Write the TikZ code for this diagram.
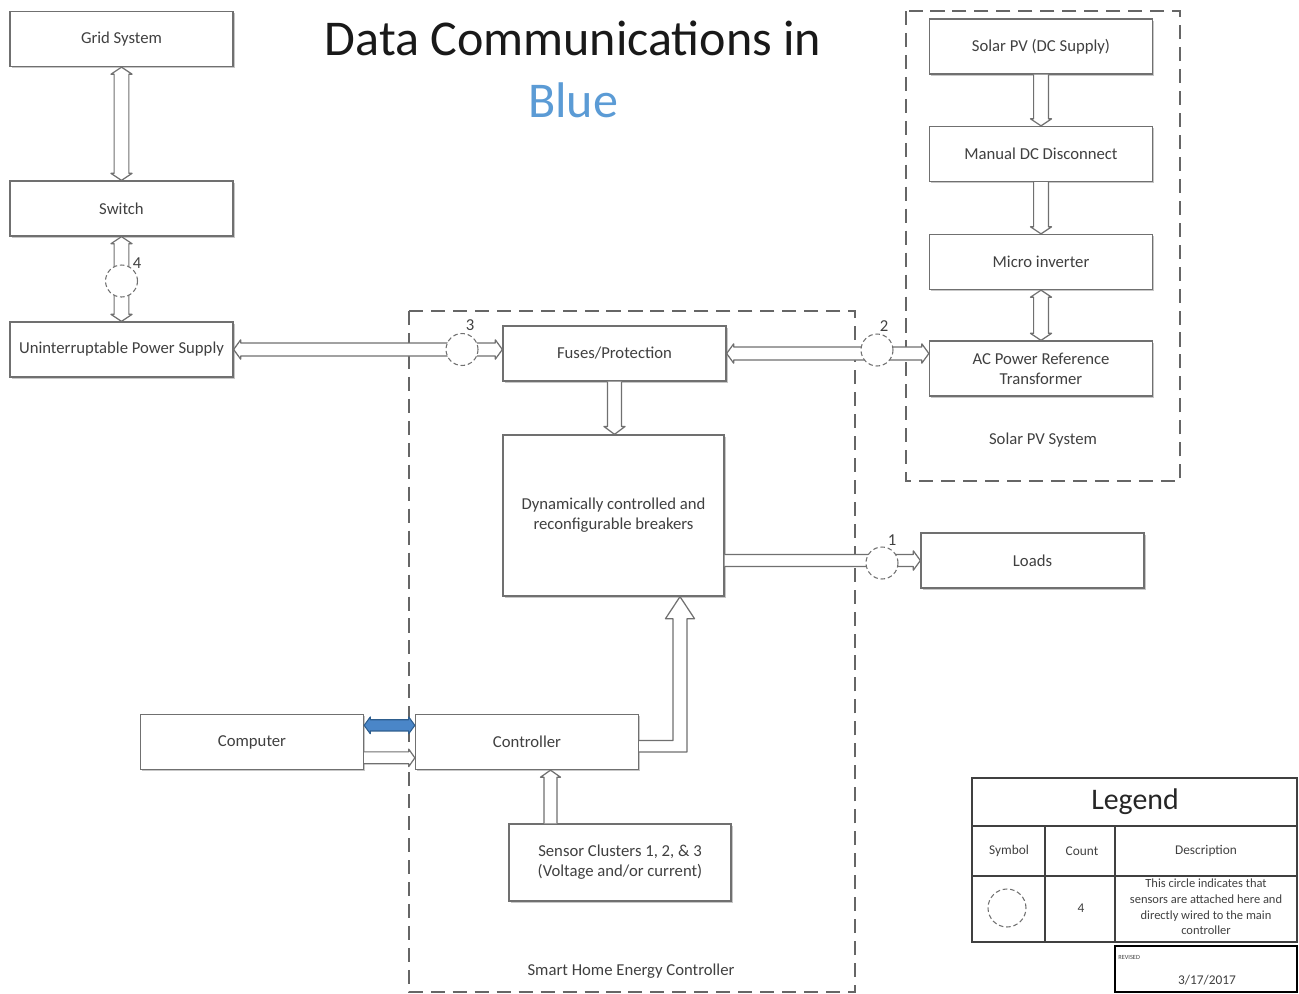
\documentclass[tikz,border=0pt]{standalone}
\usepackage{fontspec}
\setmainfont{Carlito}
\usetikzlibrary{calc,shadows}
\definecolor{linegray}{HTML}{707070}
\definecolor{txtgray}{HTML}{404040}
\definecolor{titleblue}{HTML}{5B9BD5}
\definecolor{arrblue}{HTML}{4A86C8}
\definecolor{arrblueline}{HTML}{2E5E8E}
% single-headed hollow arrow: [style]{from}{to}{shaft half width}{head half width}{head length}
\newcommand\sarrow[6][hol]{%
  \draw[#1] ($(#2)!#4!90:(#3)$) -- ($(#3)!#6!(#2)!#4!270:(#2)$) -- ($(#3)!#6!(#2)!#5!270:(#2)$) -- (#3)
    -- ($(#3)!#6!(#2)!#5!90:(#2)$) -- ($(#3)!#6!(#2)!#4!90:(#2)$) -- ($(#2)!#4!270:(#3)$);}
% double-headed hollow arrow
\newcommand\darrow[6][hol]{%
  \draw[#1] (#2) -- ($(#2)!#6!(#3)!#5!90:(#3)$) -- ($(#2)!#6!(#3)!#4!90:(#3)$)
    -- ($(#3)!#6!(#2)!#4!270:(#2)$) -- ($(#3)!#6!(#2)!#5!270:(#2)$) -- (#3)
    -- ($(#3)!#6!(#2)!#5!90:(#2)$) -- ($(#3)!#6!(#2)!#4!90:(#2)$)
    -- ($(#2)!#6!(#3)!#4!270:(#3)$) -- ($(#2)!#6!(#3)!#5!270:(#3)$) -- cycle;}
\begin{document}
\begin{tikzpicture}[x=0.02cm,y=-0.02cm,
  box/.style={draw=linegray, line width=0.75pt, fill=white, minimum width=4.46cm, minimum height=1.1cm,
    inner sep=2pt, align=center, font=\fontsize{9.5}{11.5}\selectfont, text=txtgray,
    drop shadow={shadow xshift=0.9pt, shadow yshift=-0.9pt, fill=black!22, opacity=1}},
  hol/.style={draw=linegray, fill=white, line width=0.7pt, line join=round},
  blu/.style={draw=arrblueline, fill=arrblue, line width=0.6pt, line join=round},
  sens/.style={circle, draw=linegray, dash pattern=on 2.6pt off 1.6pt, fill=white, minimum size=0.64cm, inner sep=0pt, line width=0.6pt},
  grp/.style={draw=black!60, line width=0.75pt, dash pattern=on 8pt off 4.5pt},
  lbl/.style={font=\fontsize{9.5}{11}\selectfont, text=txtgray, inner sep=0pt},
  legline/.style={draw=black!75, line width=0.7pt},
  legtxt/.style={font=\fontsize{7.6}{9.1}\selectfont, text=txtgray, align=center, inner sep=0pt}]
\useasboundingbox (0,0) rectangle (1299,994);

% title
\node[font=\fontsize{28.5}{34}\selectfont, text=black!90] (title1) at (573,38) {Data Communications in};
\node[font=\fontsize{28.5}{34}\selectfont, text=titleblue] (title2) at (573,100) {Blue};

% group frames
\draw[grp] (409,311) rectangle (855,992);
\draw[grp] (906,11) rectangle (1180,481);
\node[lbl] (shecl) at (631,971) {Smart Home Energy Controller};
\node[lbl] (spvl) at (1043,440) {Solar PV System};

% boxes
\node[box] (grid) at (121.5,39) {Grid System};
\node[box] (switch) at (121.5,208.5) {Switch};
\node[box] (ups) at (121.5,349.5) {Uninterruptable Power Supply};
\node[box] (fuses) at (614.5,353.5) {Fuses/Protection};
\node[box, minimum width=4.42cm, minimum height=3.22cm] (dyn) at (613.5,515.5) {Dynamically controlled and\\reconfigurable breakers};
\node[box] (loads) at (1032.5,560.5) {Loads};
\node[box] (computer) at (252,742) {Computer};
\node[box] (controller) at (527,742) {Controller};
\node[box, minimum width=4.44cm, minimum height=1.54cm] (sensor) at (620,862.5) {Sensor Clusters 1, 2, \& 3\\(Voltage and/or current)};
\node[box] (solar) at (1041,46.5) {Solar PV (DC Supply)};
\node[box] (manual) at (1041,154) {Manual DC Disconnect};
\node[box] (micro) at (1041,262) {Micro inverter};
\node[box] (ac) at (1041,368.5) {AC Power Reference\\Transformer};

% connector end points
\coordinate (u1) at (ups.east -| fuses.west);
\coordinate (f2) at (fuses.east -| ac.west);
\coordinate (f3) at (fuses.south |- dyn.north);
\coordinate (d1) at (dyn.east |- loads.west);
\coordinate (cb1) at ($(computer.north east)+(0,11.5)$);
\coordinate (cb2) at (cb1 -| controller.west);
\coordinate (cw1) at ($(computer.north east)+(0,44)$);
\coordinate (cw2) at (cw1 -| controller.west);
\coordinate (s1) at ($(sensor.north)+(-69.5,0)$);
\coordinate (s2) at (s1 |- controller.south);
\coordinate (tipd) at ($(dyn.south)+(66.5,0)$);

% connectors
\darrow{grid.south}{switch.north}{4.2pt}{6pt}{4pt}
\darrow{switch.south}{ups.north}{4.2pt}{6pt}{4pt}
\darrow{ups.east}{u1}{3.7pt}{5.5pt}{4pt}
\darrow{fuses.east}{f2}{3.7pt}{5.5pt}{4pt}
\sarrow{fuses.south}{f3}{4pt}{6pt}{4.5pt}
\sarrow{d1}{loads.west}{3.4pt}{5.5pt}{4pt}
\sarrow{solar.south}{manual.north}{4.2pt}{6pt}{4pt}
\sarrow{manual.south}{micro.north}{4.2pt}{6pt}{4pt}
\darrow{micro.south}{ac.north}{4.2pt}{6pt}{4pt}
\darrow[blu]{cb1}{cb2}{3.2pt}{4.8pt}{3.5pt}
\sarrow{cw1}{cw2}{3.4pt}{5pt}{3.5pt}
\sarrow{s1}{s2}{3.7pt}{5.7pt}{4pt}
\draw[hol] ($(controller.east)+(0,-1.5)$) -| ($(tipd)+(-7,22)$) -- ($(tipd)+(-14.5,22)$) -- (tipd)
  -- ($(tipd)+(14.5,22)$) -- ($(tipd)+(7,22)$) |- ($(controller.east)+(0,10)$);

% sensor circles
\node[sens] (c4) at (121.5,281) {};
\node[lbl] (l4) at (137,263) {4};
\node[sens] (c3) at (462,349.5) {};
\node[lbl] (l3) at (470,325) {3};
\node[sens] (c2) at (877,350) {};
\node[lbl] (l2) at (884,326) {2};
\node[sens] (c1) at (882,563) {};
\node[lbl] (l1) at (892,540) {1};

% legend
\draw[legline] (972,778) rectangle (1297,942);
\draw[legline] (972,826) -- (1297,826);
\draw[legline] (972,876) -- (1297,876);
\draw[legline] (1045,826) -- (1045,942);
\draw[legline] (1115,826) -- (1115,942);
\node[font=\fontsize{17}{20}\selectfont, text=black!85] (legt) at (1135,802) {Legend};
\node[legtxt] (lsym) at (1009,851) {Symbol};
\node[legtxt] (lcnt) at (1082,851) {Count};
\node[legtxt] (ldesc) at (1206,851) {Description};
\node[sens, minimum size=0.76cm] (lcirc) at (1007,908) {};
\node[legtxt] (lfour) at (1081,908) {4};
\node[legtxt, font=\fontsize{7.1}{8.9}\selectfont] (ltext) at (1206,907) {This circle indicates that\\sensors are attached here and\\directly wired to the main\\controller};
\draw[line width=1.3pt, black] (1115,946) rectangle (1297,992);
\node[anchor=west, font=\fontsize{3.6}{4}\selectfont, text=txtgray, inner sep=0pt] (rev) at (1118,957) {REVISED};
\node[legtxt] (date) at (1207,980) {3/17/2017};
\end{tikzpicture}
\end{document}
